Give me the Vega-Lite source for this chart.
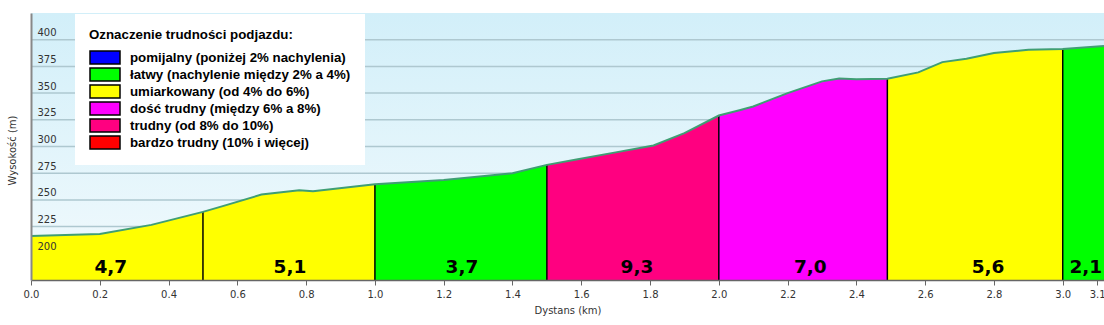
{
  "$schema": "https://vega.github.io/schema/vega-lite/v6.json",
  "width": 1073,
  "height": 267,
  "autosize": {"type": "none"},
  "padding": {"left": 31, "top": 13, "right": 0, "bottom": 45},
  "background": "white",
  "config": {
    "font": "DejaVu Sans",
    "view": {
      "stroke": null,
      "fill": {"gradient": "linear", "x1": 0, "y1": 0, "x2": 0, "y2": 1,
        "stops": [{"offset": 0, "color": "#d2eff9"}, {"offset": 1, "color": "#f2fafd"}]}
    },
    "axisY": {
      "grid": false, "labelOverlap": false,
      "domainColor": "#888888", "domainWidth": 2, "ticks": false,
      "labelAlign": "left", "labelPadding": -6, "labelBaseline": "alphabetic", "labelOffset": -4,
      "labelFont": "DejaVu Sans", "labelFontSize": 10, "labelColor": "#333333",
      "titleFont": "DejaVu Sans", "titleFontSize": 10, "titleFontWeight": "normal", "titleColor": "#333333",
      "titleX": -19, "titleY": 137, "titleBaseline": "middle"
    }
  },
  "datasets": {
    "gridvals": [{"elev": 200}, {"elev": 225}, {"elev": 250}, {"elev": 275}, {"elev": 300}, {"elev": 325}, {"elev": 350}, {"elev": 375}, {"elev": 400}],
    "profile": [
      {"km": 0.00, "elev": 216.3}, {"km": 0.20, "elev": 218.1}, {"km": 0.35, "elev": 226.6},
      {"km": 0.50, "elev": 238.8}, {"km": 0.56, "elev": 244.4}, {"km": 0.67, "elev": 255.0},
      {"km": 0.78, "elev": 259.0}, {"km": 0.82, "elev": 258.0}, {"km": 1.00, "elev": 264.7},
      {"km": 1.20, "elev": 268.7}, {"km": 1.40, "elev": 275.0}, {"km": 1.50, "elev": 282.8},
      {"km": 1.59, "elev": 288.1}, {"km": 1.70, "elev": 294.5}, {"km": 1.81, "elev": 301.0},
      {"km": 1.90, "elev": 312.5}, {"km": 2.00, "elev": 329.0}, {"km": 2.06, "elev": 334.0},
      {"km": 2.10, "elev": 337.5}, {"km": 2.20, "elev": 350.0}, {"km": 2.30, "elev": 361.0},
      {"km": 2.35, "elev": 363.7}, {"km": 2.40, "elev": 363.0}, {"km": 2.49, "elev": 363.4},
      {"km": 2.58, "elev": 369.4}, {"km": 2.65, "elev": 379.0}, {"km": 2.72, "elev": 382.2},
      {"km": 2.80, "elev": 387.5}, {"km": 2.90, "elev": 390.6}, {"km": 3.00, "elev": 391.2},
      {"km": 3.12, "elev": 394.0}
    ],
    "areas": [
      {"seg": 1, "cat": "umiarkowany (od 4% do 6%)", "km": 0.00, "elev": 216.3},
      {"seg": 1, "cat": "umiarkowany (od 4% do 6%)", "km": 0.20, "elev": 218.1},
      {"seg": 1, "cat": "umiarkowany (od 4% do 6%)", "km": 0.35, "elev": 226.6},
      {"seg": 1, "cat": "umiarkowany (od 4% do 6%)", "km": 0.50, "elev": 238.8},
      {"seg": 2, "cat": "umiarkowany (od 4% do 6%)", "km": 0.50, "elev": 238.8},
      {"seg": 2, "cat": "umiarkowany (od 4% do 6%)", "km": 0.56, "elev": 244.4},
      {"seg": 2, "cat": "umiarkowany (od 4% do 6%)", "km": 0.67, "elev": 255.0},
      {"seg": 2, "cat": "umiarkowany (od 4% do 6%)", "km": 0.78, "elev": 259.0},
      {"seg": 2, "cat": "umiarkowany (od 4% do 6%)", "km": 0.82, "elev": 258.0},
      {"seg": 2, "cat": "umiarkowany (od 4% do 6%)", "km": 1.00, "elev": 264.7},
      {"seg": 3, "cat": "łatwy (nachylenie między 2% a 4%)", "km": 1.00, "elev": 264.7},
      {"seg": 3, "cat": "łatwy (nachylenie między 2% a 4%)", "km": 1.20, "elev": 268.7},
      {"seg": 3, "cat": "łatwy (nachylenie między 2% a 4%)", "km": 1.40, "elev": 275.0},
      {"seg": 3, "cat": "łatwy (nachylenie między 2% a 4%)", "km": 1.50, "elev": 282.8},
      {"seg": 4, "cat": "trudny (od 8% do 10%)", "km": 1.50, "elev": 282.8},
      {"seg": 4, "cat": "trudny (od 8% do 10%)", "km": 1.59, "elev": 288.1},
      {"seg": 4, "cat": "trudny (od 8% do 10%)", "km": 1.70, "elev": 294.5},
      {"seg": 4, "cat": "trudny (od 8% do 10%)", "km": 1.81, "elev": 301.0},
      {"seg": 4, "cat": "trudny (od 8% do 10%)", "km": 1.90, "elev": 312.5},
      {"seg": 4, "cat": "trudny (od 8% do 10%)", "km": 2.00, "elev": 329.0},
      {"seg": 5, "cat": "dość trudny (między 6% a 8%)", "km": 2.00, "elev": 329.0},
      {"seg": 5, "cat": "dość trudny (między 6% a 8%)", "km": 2.06, "elev": 334.0},
      {"seg": 5, "cat": "dość trudny (między 6% a 8%)", "km": 2.10, "elev": 337.5},
      {"seg": 5, "cat": "dość trudny (między 6% a 8%)", "km": 2.20, "elev": 350.0},
      {"seg": 5, "cat": "dość trudny (między 6% a 8%)", "km": 2.30, "elev": 361.0},
      {"seg": 5, "cat": "dość trudny (między 6% a 8%)", "km": 2.35, "elev": 363.7},
      {"seg": 5, "cat": "dość trudny (między 6% a 8%)", "km": 2.40, "elev": 363.0},
      {"seg": 5, "cat": "dość trudny (między 6% a 8%)", "km": 2.49, "elev": 363.4},
      {"seg": 6, "cat": "umiarkowany (od 4% do 6%)", "km": 2.49, "elev": 363.4},
      {"seg": 6, "cat": "umiarkowany (od 4% do 6%)", "km": 2.58, "elev": 369.4},
      {"seg": 6, "cat": "umiarkowany (od 4% do 6%)", "km": 2.65, "elev": 379.0},
      {"seg": 6, "cat": "umiarkowany (od 4% do 6%)", "km": 2.72, "elev": 382.2},
      {"seg": 6, "cat": "umiarkowany (od 4% do 6%)", "km": 2.80, "elev": 387.5},
      {"seg": 6, "cat": "umiarkowany (od 4% do 6%)", "km": 2.90, "elev": 390.6},
      {"seg": 6, "cat": "umiarkowany (od 4% do 6%)", "km": 3.00, "elev": 391.2},
      {"seg": 7, "cat": "łatwy (nachylenie między 2% a 4%)", "km": 3.00, "elev": 391.2},
      {"seg": 7, "cat": "łatwy (nachylenie między 2% a 4%)", "km": 3.12, "elev": 394.0}
    ],
    "bounds": [
      {"km": 0.50, "elev": 238.8}, {"km": 1.00, "elev": 264.7}, {"km": 1.50, "elev": 282.8},
      {"km": 2.00, "elev": 329.0}, {"km": 2.49, "elev": 363.4}, {"km": 3.00, "elev": 391.2}
    ],
    "grades": [
      {"km": 0.232, "grade": "4,7"}, {"km": 0.753, "grade": "5,1"}, {"km": 1.253, "grade": "3,7"},
      {"km": 1.762, "grade": "9,3"}, {"km": 2.266, "grade": "7,0"}, {"km": 2.783, "grade": "5,6"},
      {"km": 3.067, "grade": "2,1"}
    ]
  },
  "layer": [
    {
      "data": {"name": "gridvals"},
      "mark": {"type": "rule", "color": "#aec8d0", "strokeWidth": 1.5},
      "encoding": {
        "y": {"field": "elev", "type": "quantitative",
          "scale": {"domain": [175, 425], "nice": false, "zero": false},
          "axis": {"title": "Wysokość (m)", "zindex": 1, "values": [200, 225, 250, 275, 300, 325, 350, 375, 400]}}
      }
    },
    {
      "data": {"name": "areas"},
      "mark": {"type": "area", "opacity": 1},
      "encoding": {
        "x": {
          "field": "km", "type": "quantitative",
          "scale": {"domain": [0, 3.12], "nice": false, "zero": false},
          "axis": {
            "title": "Dystans (km)", "values": [0, 0.2, 0.4, 0.6, 0.8, 1.0, 1.2, 1.4, 1.6, 1.8, 2.0, 2.2, 2.4, 2.6, 2.8, 3.0, 3.1],
            "format": ".1f", "grid": false, "domainColor": "#666666", "domainWidth": 1.5,
            "tickColor": "#666666", "tickSize": 5, "tickWidth": 1,
            "labelFont": "DejaVu Sans", "labelFontSize": 10, "labelColor": "#333333", "labelPadding": 4,
            "labelFlush": false, "labelOverlap": false, "zindex": 1,
            "titleFont": "DejaVu Sans", "titleFontSize": 10, "titleFontWeight": "normal", "titleColor": "#333333", "titlePadding": 6
          }
        },
        "y": {
          "field": "elev", "type": "quantitative", "stack": null,
          "axis": {"title": "Wysokość (m)", "zindex": 1, "values": [200, 225, 250, 275, 300, 325, 350, 375, 400]}
        },
        "y2": {"datum": 175},
        "detail": {"field": "seg"},
        "color": {
          "field": "cat", "type": "nominal",
          "scale": {
            "domain": ["pomijalny (poniżej 2% nachylenia)", "łatwy (nachylenie między 2% a 4%)", "umiarkowany (od 4% do 6%)", "dość trudny (między 6% a 8%)", "trudny (od 8% do 10%)", "bardzo trudny (10% i więcej)"],
            "range": ["#0000ff", "#00ff00", "#ffff00", "#ff00ff", "#ff0080", "#ff0000"]
          },
          "legend": {
            "orient": "none", "legendX": 44, "legendY": 1, "fillColor": "white", "padding": 14,
            "title": "Oznaczenie trudności podjazdu:", "titleFont": "Liberation Sans", "titleFontSize": 13.3,
            "titleFontWeight": "bold", "titleColor": "black", "titlePadding": 8, "titleLimit": 500,
            "symbolType": "M-1,-0.433H1V0.433H-1Z", "symbolSize": 900,
            "symbolStrokeColor": "black", "symbolStrokeWidth": 1.5, "symbolOpacity": 1,
            "labelFont": "Liberation Sans", "labelFontSize": 13.3, "labelFontWeight": "bold", "labelColor": "black",
            "labelOffset": 9, "clipHeight": 16.4, "rowPadding": 0, "labelLimit": 500,
            "encode": {"symbols": {"update": {"stroke": {"value": "black"}, "strokeWidth": {"value": 1.5}, "opacity": {"value": 1}}}}
          }
        }
      }
    },
    {
      "data": {"name": "bounds"},
      "mark": {"type": "rule", "color": "black", "strokeWidth": 1.5},
      "encoding": {
        "x": {"field": "km", "type": "quantitative"},
        "y": {"field": "elev", "type": "quantitative", "axis": {"title": "Wysokość (m)", "zindex": 1, "values": [200, 225, 250, 275, 300, 325, 350, 375, 400]}},
        "y2": {"datum": 175}
      }
    },
    {
      "data": {"name": "profile"},
      "mark": {"type": "line", "color": "#3f9e74", "strokeWidth": 2},
      "encoding": {
        "x": {"field": "km", "type": "quantitative"},
        "y": {"field": "elev", "type": "quantitative", "axis": {"title": "Wysokość (m)", "zindex": 1, "values": [200, 225, 250, 275, 300, 325, 350, 375, 400]}}
      }
    },
    {
      "data": {"name": "grades"},
      "mark": {"type": "text", "font": "DejaVu Sans", "fontWeight": "bold", "fontSize": 18.5, "fill": "black", "align": "center", "baseline": "alphabetic"},
      "encoding": {
        "x": {"field": "km", "type": "quantitative"},
        "y": {"datum": 181.3, "type": "quantitative", "axis": {"title": "Wysokość (m)", "zindex": 1, "values": [200, 225, 250, 275, 300, 325, 350, 375, 400]}},
        "text": {"field": "grade", "type": "nominal"}
      }
    }
  ]
}
